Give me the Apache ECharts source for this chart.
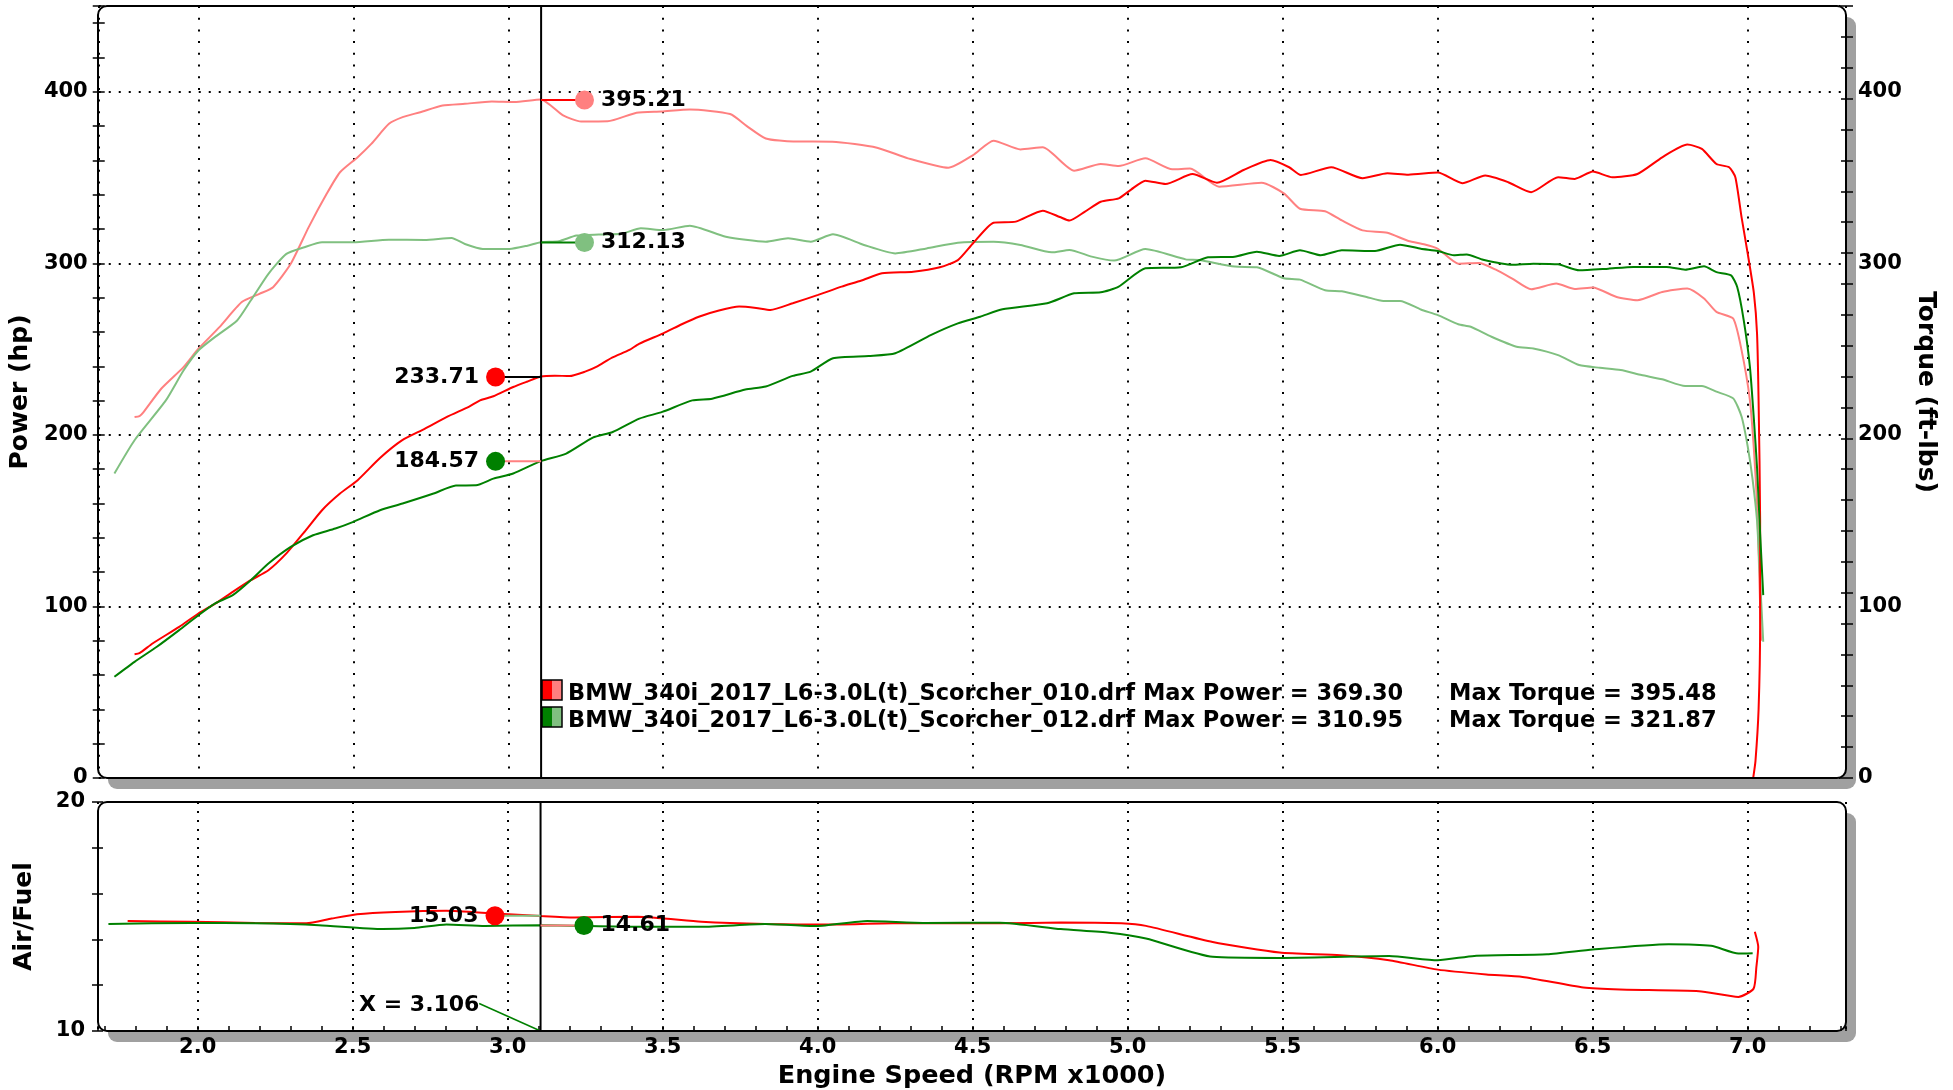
<!DOCTYPE html>
<html><head><meta charset="utf-8">
<script src="https://cdn.jsdelivr.net/npm/echarts@6/dist/echarts.min.js"></script>
<style>html,body{margin:0;padding:0;background:#fff}#c{width:1953px;height:1090px}</style>
</head><body><div id="c"></div>
<script>
// ---------------- DATA ----------------
const runNames = ['BMW_340i_2017_L6-3.0L(t)_Scorcher_010.drf', 'BMW_340i_2017_L6-3.0L(t)_Scorcher_012.drf'];
const maxPower = ['369.30', '310.95'];
const maxTorque = ['395.48', '321.87'];
const cursorRpm = 3.106;
const cursorText = 'X = 3.106';
// values at cursor: [power010, power012, torque010, torque012, afr010, afr012]
const cursorValues = [233.71, 184.57, 395.21, 312.13, 15.03, 14.61];
const cursorLabels = ['233.71', '184.57', '395.21', '312.13', '15.03', '14.61'];

// Power run 010 (red)
const p1Rpm = [1.794,1.81,1.852,1.938,2.0,2.054,2.111,2.169,2.226,2.284,2.342,2.399,2.457,2.514,2.586,2.658,2.73,2.802,2.874,2.909,2.952,3.016,3.06,3.105,3.15,3.198,3.25,3.284,3.335,3.391,3.422,3.5,3.56,3.615,3.68,3.745,3.8,3.846,3.918,4.0,4.076,4.14,4.206,4.307,4.393,4.451,4.5,4.566,4.638,4.725,4.78,4.811,4.86,4.912,4.97,5.01,5.056,5.121,5.208,5.287,5.373,5.46,5.52,5.558,5.656,5.757,5.837,5.905,6.0,6.079,6.153,6.227,6.301,6.388,6.442,6.5,6.563,6.644,6.724,6.805,6.852,6.899,6.94,6.96,6.98,7.0,7.02,7.03,7.035,7.04,7.04,7.035,7.025,7.018];
const p1Hp  = [72.2,72.8,78.4,88.1,95.9,101.6,108.5,115.3,121.1,130.9,143.4,156.1,165.8,173.6,186.5,196.9,203.5,210.5,216.5,220.1,222.5,227.9,231,234.0,234.5,234.3,237,239.6,245,249.5,253.1,259.2,264.5,268.9,272.5,274.8,274,272.8,276.7,281.6,286.4,290,294.2,295.1,297.7,301.9,311.7,323.7,324.3,330.7,327,324.9,330,335.9,337.9,343,348.2,346.2,352,347,354.4,360.2,356,351.5,356,349.6,352.5,351.7,352.9,346.7,351.2,347.3,341.5,350.2,349.2,353.5,350.2,352.1,361.8,369.2,366.7,357.9,356,350.2,326.9,305.6,282.4,259.1,220,150,90,40,10,0.5];

// Power run 012 (green)
const p2Rpm = [1.729,1.794,1.866,1.938,2.0,2.053,2.111,2.169,2.226,2.298,2.37,2.442,2.5,2.586,2.659,2.759,2.831,2.896,2.952,3.016,3.105,3.187,3.273,3.337,3.423,3.497,3.594,3.658,3.765,3.831,3.918,3.976,4.048,4.163,4.249,4.365,4.451,4.523,4.595,4.739,4.826,4.912,4.97,5.056,5.171,5.258,5.344,5.416,5.488,5.555,5.622,5.69,5.797,5.878,5.945,6.0,6.052,6.093,6.146,6.24,6.308,6.388,6.456,6.55,6.631,6.738,6.798,6.859,6.899,6.946,6.966,6.987,7.007,7.02,7.03,7.04,7.05];
const p2Hp  = [59,67.7,76.5,86.2,94.9,101.7,106.6,115.3,125,134.7,141.5,145.4,149.3,156.1,160,165.8,170.5,170.6,174.5,177.5,184.7,189.1,198.4,201.7,209.5,213.4,220.1,221.1,226.4,228.2,234.4,236.9,244.7,246,247.6,258.3,265,268.9,273.2,276.7,282.5,283.1,286.4,297.1,297.7,303.5,303.9,306.8,304.3,307.6,304.7,307.6,307.2,310.9,308.5,307.2,304.7,305.2,302.1,299.2,299.8,299.4,295.9,296.9,297.9,297.9,296.3,298.3,294.9,293,286.2,266.9,239.7,208.7,181,142.5,106.6];

// Torque run 010 (light red)
const t1Rpm = [1.794,1.81,1.823,1.88,1.952,2.0,2.068,2.14,2.197,2.241,2.298,2.356,2.414,2.457,2.514,2.558,2.615,2.659,2.716,2.788,2.86,2.947,3.019,3.105,3.177,3.235,3.321,3.414,3.494,3.586,3.716,3.77,3.831,3.92,4.046,4.19,4.29,4.42,4.5,4.566,4.653,4.725,4.826,4.912,4.97,5.056,5.143,5.2,5.294,5.431,5.503,5.555,5.636,5.69,5.757,5.837,5.905,5.958,6.0,6.066,6.133,6.187,6.24,6.301,6.382,6.442,6.5,6.577,6.644,6.724,6.805,6.859,6.899,6.953,6.98,7.007,7.02,7.03,7.037,7.043];
const t1Tq  = [210.4,211,213.3,226.9,239.5,250.2,262.8,277.4,282.2,286.1,299.7,321.1,340.5,353.1,361.9,369.6,381.3,385.2,388.1,392,393,394.3,394,395.5,386.2,382.7,382.8,387.8,388.5,389.7,387,380,372.8,371,370.9,367.4,361.2,355.7,363.1,371.5,366.4,367.6,354,357.9,356.7,361.2,354.8,355.3,344.7,347,340.8,331.8,330.4,325,319.2,317.8,313,311,308.5,299.8,300.2,296.3,291.1,284.9,288.2,285.1,285.9,280.4,278.5,283.3,285.3,279.5,271.7,267.8,249.4,220.3,191.3,160,120,80];

// Torque run 012 (light green)
const t2Rpm = [1.729,1.794,1.895,1.952,2.0,2.053,2.125,2.169,2.226,2.284,2.342,2.399,2.5,2.615,2.73,2.817,2.86,2.918,3.004,3.062,3.105,3.163,3.22,3.292,3.365,3.428,3.5,3.586,3.702,3.831,3.903,3.976,4.048,4.148,4.249,4.35,4.451,4.566,4.653,4.754,4.811,4.883,4.955,5.056,5.186,5.229,5.344,5.416,5.503,5.555,5.636,5.69,5.77,5.824,5.878,5.945,6.0,6.066,6.106,6.173,6.254,6.308,6.388,6.456,6.523,6.59,6.657,6.724,6.798,6.852,6.899,6.953,6.98,7.0,7.015,7.03,7.04,7.05];
const t2Tq  = [177.5,196.9,220.1,237.5,249.2,257,266.7,278.3,293.9,305.5,309.4,312.3,312.3,313.8,313.6,314.8,311.3,308.4,308.4,310.3,312.3,312.9,316.2,316.8,317.2,320.4,319.4,321.9,315.5,312.6,314.6,312.6,316.9,310.7,305.8,308.7,312,312.6,310.7,306.4,307.8,303.9,301.6,308.3,302.3,301.9,298.1,297.7,291.3,290.5,284.3,283.7,280.4,278.1,278.1,273.1,269.8,264.5,263,257.2,251.4,250.4,246.5,240.7,239.1,237.8,234.9,232.4,228.5,228.5,225.2,221.3,210.7,193.2,175,150,115,79.4];

// Air/Fuel run 010 (red)
const a1Rpm = [1.774,1.979,2.185,2.35,2.432,2.514,2.638,2.802,2.957,3.107,3.214,3.42,3.625,3.831,4.037,4.243,4.588,4.784,4.98,5.059,5.274,5.49,5.686,5.843,6.0,6.157,6.274,6.47,6.588,6.843,6.97,7.019,7.028,7.034,7.023];
const a1Afr = [14.8,14.77,14.72,14.7,14.91,15.1,15.2,15.25,15.13,15.02,14.96,14.99,14.77,14.67,14.65,14.7,14.7,14.74,14.7,14.59,13.89,13.43,13.31,13.09,12.68,12.47,12.36,11.9,11.81,11.74,11.49,11.85,12.8,13.67,14.33];

// Air/Fuel run 012 (green)
const a2Rpm = [1.712,1.979,2.185,2.391,2.597,2.699,2.802,2.926,3.107,3.42,3.625,3.831,3.995,4.16,4.345,4.588,4.784,4.941,5.059,5.274,5.49,5.843,6.0,6.118,6.353,6.5,6.745,6.882,6.97,7.016];
const a2Afr = [14.67,14.72,14.7,14.62,14.45,14.5,14.65,14.59,14.62,14.55,14.55,14.67,14.58,14.8,14.72,14.73,14.45,14.29,14.04,13.24,13.19,13.27,13.09,13.28,13.35,13.56,13.79,13.72,13.38,13.4];

// ---------------- LAYOUT / STYLE ----------------
const FONT = 'DejaVu Sans';
const RED = '#ff0000', PINK = '#ff8080', GREEN = '#008000', LGREEN = '#80c080';
const G0 = {left: 98, top: 6, width: 1748, height: 772};
const G1 = {left: 98, top: 802, width: 1748, height: 229};
const XMIN = 1.6784, XMAX = 7.3171;
const MARK_L = 2.959, MARK_R = 3.246;

const zip = (a, b) => a.map((v, i) => [v, b[i]]);
const dotted = (dash) => ({show: true, lineStyle: {color: '#000', width: 2, type: dash}});
const lbl = {fontFamily: FONT, fontWeight: 'bold', fontSize: 22, color: '#000'};
const nameStyle = {fontFamily: FONT, fontWeight: 'bold', fontSize: 25, color: '#000'};

function curve(name, xi, yi, data, color) {
  return {name, type: 'line', xAxisIndex: xi, yAxisIndex: yi, data, showSymbol: false, smooth: 0.2,
    lineStyle: {color, width: 2}, itemStyle: {color}, z: 5, silent: true};
}
function seg(xi, yi, data, color, w) {
  return {type: 'line', xAxisIndex: xi, yAxisIndex: yi, data, showSymbol: false,
    lineStyle: {color, width: w || 2}, z: 6, silent: true};
}
function marker(xi, yi, x, y, color, text, pos) {
  return {type: 'scatter', xAxisIndex: xi, yAxisIndex: yi, data: [[x, y]], symbolSize: 19,
    itemStyle: {color, opacity: 1}, z: 8, silent: true,
    label: Object.assign({show: true, position: pos, distance: 7, formatter: text}, lbl)};
}

const xBase = {type: 'value', min: XMIN, max: XMAX, splitNumber: 11, axisLine: {show: false}};

const option = {
  animation: false,
  backgroundColor: '#fff',
  textStyle: {fontFamily: FONT},
  grid: [
    Object.assign({containLabel: false}, G0),
    Object.assign({containLabel: false}, G1)
  ],
  xAxis: [
    Object.assign({}, xBase, {gridIndex: 0, axisLabel: {show: false}, axisTick: {show: false},
      splitLine: dotted([2, 9.7])}),
    Object.assign({}, xBase, {gridIndex: 1,
      axisLabel: Object.assign({margin: 6, formatter: v => (Math.abs(v * 2 - Math.round(v * 2)) < 1e-6 ? v.toFixed(1) : '')}, lbl, {fontSize: 21}),
      axisTick: {show: true, inside: true, length: 5, lineStyle: {color: '#000', width: 1.5}},
      minorTick: {show: true, splitNumber: 5, length: 5, lineStyle: {color: '#000', width: 1.5}},
      splitLine: dotted([2, 7]),
      name: 'Engine Speed (RPM x1000)', nameLocation: 'middle', nameGap: 32,
      nameTextStyle: Object.assign({}, nameStyle, {fontSize: 25.5})})
  ],
  yAxis: [
    {gridIndex: 0, type: 'value', min: 0, max: 450, interval: 100, position: 'left',
      axisLine: {show: false},
      axisLabel: Object.assign({margin: 11, formatter: v => (v % 100 === 0 ? String(v) : '')}, lbl, {fontSize: 21}),
      axisTick: {show: true, length: 6, lineStyle: {color: '#000', width: 1.5}},
      minorTick: {show: true, splitNumber: 5, length: 6, lineStyle: {color: '#000', width: 1.5}},
      splitLine: dotted([2, 8]),
      name: 'Power (hp)', nameLocation: 'middle', nameGap: 58, nameTextStyle: nameStyle},
    {gridIndex: 0, type: 'value', min: 0, max: 450, interval: 100, position: 'right',
      axisLine: {show: false},
      axisLabel: Object.assign({margin: 12, formatter: v => (v % 100 === 0 ? String(v) : '')}, lbl, {fontSize: 21}),
      axisTick: {show: false}, splitLine: {show: false},
      name: 'Torque (ft-lbs)', nameLocation: 'middle', nameGap: 63, nameRotate: -90, nameTextStyle: nameStyle},
    {gridIndex: 0, type: 'value', min: 0, max: 450, interval: 100, position: 'left',
      axisLine: {show: false}, axisLabel: {show: false}, splitLine: {show: false},
      axisTick: {show: true, inside: true, length: 6, lineStyle: {color: '#000', width: 1.5}},
      minorTick: {show: true, splitNumber: 5, length: 6, lineStyle: {color: '#000', width: 1.5}}},
    {gridIndex: 0, type: 'value', min: 0, max: 450, interval: 18, position: 'right', offset: -5,
      axisLine: {show: false}, axisLabel: {show: false}, splitLine: {show: false},
      axisTick: {show: true, length: 12, lineStyle: {color: '#000', width: 1.5}}},
    {gridIndex: 1, type: 'value', min: 10, max: 20, interval: 2, position: 'left',
      axisLine: {show: false},
      axisLabel: Object.assign({margin: 13, formatter: v => (v === 10 || v === 20 ? String(v) : '')}, lbl, {fontSize: 21}),
      axisTick: {show: true, length: 6, lineStyle: {color: '#000', width: 1.5}},
      splitLine: {show: false},
      name: 'Air/Fuel', nameLocation: 'middle', nameGap: 61, nameTextStyle: nameStyle},
    {gridIndex: 1, type: 'value', min: 10, max: 20, interval: 2, position: 'left',
      axisLine: {show: false}, axisLabel: {show: false}, splitLine: {show: false},
      axisTick: {show: true, inside: true, length: 5, lineStyle: {color: '#000', width: 1.5}}}
  ],
  series: [
    curve('T1', 0, 1, zip(t1Rpm, t1Tq), PINK),
    curve('T2', 0, 1, zip(t2Rpm, t2Tq), LGREEN),
    curve('P1', 0, 0, zip(p1Rpm, p1Hp), RED),
    curve('P2', 0, 0, zip(p2Rpm, p2Hp), GREEN),
    curve('A1', 1, 4, zip(a1Rpm, a1Afr), RED),
    curve('A2', 1, 4, zip(a2Rpm, a2Afr), GREEN),
    // cursor
    seg(0, 0, [[cursorRpm, 0], [cursorRpm, 450]], '#000', 2),
    seg(1, 4, [[cursorRpm, 10], [cursorRpm, 20]], '#000', 2),
    // connectors
    seg(0, 0, [[MARK_L, cursorValues[0]], [cursorRpm, cursorValues[0]]], '#000'),
    seg(0, 0, [[MARK_L, cursorValues[1]], [cursorRpm, cursorValues[1]]], PINK),
    seg(0, 1, [[cursorRpm, cursorValues[2]], [MARK_R, cursorValues[2]]], RED),
    seg(0, 1, [[cursorRpm, cursorValues[3]], [MARK_R, cursorValues[3]]], GREEN),
    seg(1, 4, [[MARK_L, cursorValues[4]], [cursorRpm, cursorValues[4]]], LGREEN),
    seg(1, 4, [[cursorRpm, cursorValues[5]], [MARK_R, cursorValues[5]]], PINK),
    // markers
    marker(0, 0, MARK_L, cursorValues[0], RED, cursorLabels[0], 'left'),
    marker(0, 0, MARK_L, cursorValues[1], GREEN, cursorLabels[1], 'left'),
    marker(0, 1, MARK_R, cursorValues[2], PINK, cursorLabels[2], 'right'),
    marker(0, 1, MARK_R, cursorValues[3], LGREEN, cursorLabels[3], 'right'),
    marker(1, 4, MARK_L, cursorValues[4], RED, cursorLabels[4], 'left'),
    marker(1, 4, MARK_R, cursorValues[5], GREEN, cursorLabels[5], 'right'),
    // X = label
    seg(1, 4, [[2.908, 11.2], [cursorRpm, 10]], GREEN, 1.5),
    {type: 'scatter', xAxisIndex: 1, yAxisIndex: 4, data: [[2.912, 11.12]], symbolSize: 0,
      itemStyle: {color: '#000', opacity: 1}, silent: true, z: 8,
      label: Object.assign({show: true, position: 'left', distance: 1, formatter: cursorText}, lbl, {color: '#000', opacity: 1})}
  ],
  graphic: []
};

// frames and shadows
[G0, G1].forEach(g => {
  option.graphic.push({type: 'rect', z: -20, silent: true,
    shape: {x: g.left + 10, y: g.top + 11, width: g.width, height: g.height, r: 9}, style: {fill: '#a0a0a0'}});
  option.graphic.push({type: 'rect', z: -19, silent: true,
    shape: {x: g.left, y: g.top, width: g.width, height: g.height, r: 9}, style: {fill: '#fff'}});
  option.graphic.push({type: 'rect', z: 50, silent: true,
    shape: {x: g.left, y: g.top, width: g.width, height: g.height, r: 9}, style: {fill: 'none', stroke: '#000', lineWidth: 2}});
});
// legend
const legendColors = [[RED, PINK], [GREEN, LGREEN]];
runNames.forEach((n, i) => {
  const y = 680 + i * 27;
  option.graphic.push({type: 'rect', z: 60, shape: {x: 542, y: y, width: 10, height: 20}, style: {fill: legendColors[i][0]}});
  option.graphic.push({type: 'rect', z: 60, shape: {x: 552, y: y, width: 10, height: 20}, style: {fill: legendColors[i][1]}});
  option.graphic.push({type: 'rect', z: 61, shape: {x: 542, y: y, width: 20, height: 20}, style: {fill: 'none', stroke: '#000', lineWidth: 1.5}});
  option.graphic.push({type: 'text', z: 60, style: {x: 568, y: y + 14, text: n + ' Max Power = ' + maxPower[i],
    fontFamily: FONT, fontWeight: 'bold', fontSize: 22.5, fill: '#000', verticalAlign: 'middle'}});
  option.graphic.push({type: 'text', z: 60, style: {x: 1449, y: y + 14, text: 'Max Torque = ' + maxTorque[i],
    fontFamily: FONT, fontWeight: 'bold', fontSize: 22.5, fill: '#000', verticalAlign: 'middle'}});
});

const chart = echarts.init(document.getElementById('c'), null, {renderer: 'canvas'});
chart.setOption(option);
</script></body></html>
